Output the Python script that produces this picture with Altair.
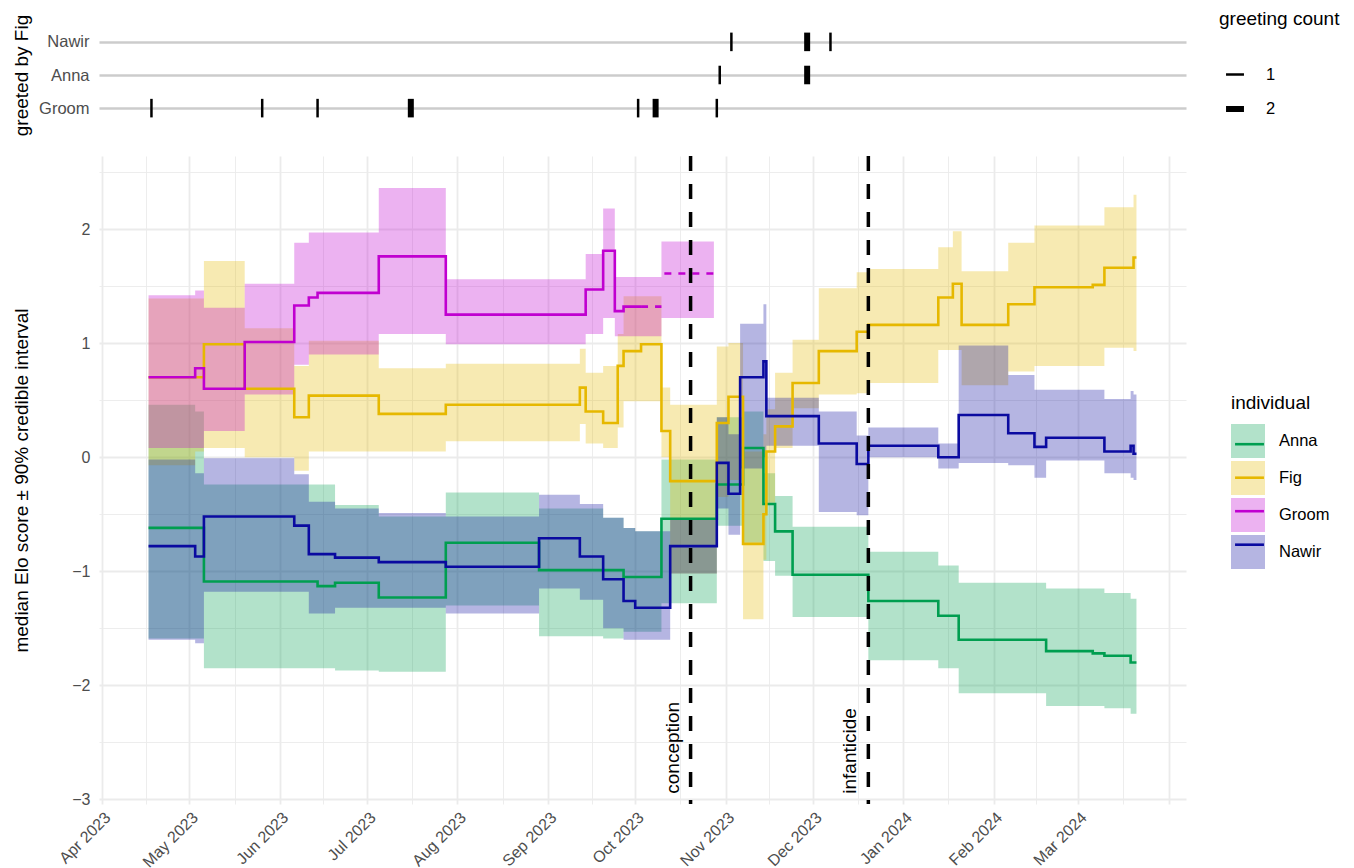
import altair as alt
import pandas as pd

# ---------------- data ----------------
individuals = ["Anna", "Fig", "Groom", "Nawir"]
colors = ["#009E50", "#E6B800", "#C000D0", "#0A0AA0"]

anna_dates = ["2023-04-17", "2023-05-03", "2023-05-06", "2023-06-14", "2023-06-20", "2023-07-05",
              "2023-07-28", "2023-08-29", "2023-09-20", "2023-09-27", "2023-10-01", "2023-10-10",
              "2023-10-29", "2023-11-07", "2023-11-14", "2023-11-18", "2023-11-24", "2023-12-20",
              "2024-01-13", "2024-01-20", "2024-02-19", "2024-03-06", "2024-03-10", "2024-03-19",
              "2024-03-21"]
anna_median = [-0.62, -0.62, -1.09, -1.13, -1.10, -1.23, -0.75, -0.99, -0.99, -1.05, -1.05, -0.54,
               -0.24, 0.08, -0.41, -0.65, -1.03, -1.26, -1.39, -1.60, -1.70, -1.72, -1.74, -1.80, -1.80]
anna_lower = [-1.59, -1.59, -1.85, -1.85, -1.87, -1.88, -1.30, -1.57, -1.59, -1.53, -1.53, -1.28,
              -0.60, -0.75, -0.91, -1.04, -1.40, -1.78, -1.85, -2.07, -2.18, -2.18, -2.20, -2.25, -2.25]
anna_upper = [0.46, 0.40, -0.24, -0.24, -0.42, -0.52, -0.31, -0.45, -0.53, -0.62, -0.65, -0.02,
              0.35, 0.40, -0.14, -0.34, -0.61, -0.83, -0.95, -1.10, -1.15, -1.15, -1.19, -1.24, -1.24]

fig_dates = ["2023-04-17", "2023-05-03", "2023-05-06", "2023-05-20", "2023-06-06", "2023-06-11",
             "2023-07-05", "2023-07-28", "2023-09-12", "2023-09-14", "2023-09-20", "2023-09-25",
             "2023-09-27", "2023-10-03", "2023-10-10", "2023-10-13", "2023-10-29", "2023-11-02",
             "2023-11-07", "2023-11-14", "2023-11-15", "2023-11-18", "2023-11-24", "2023-12-03",
             "2023-12-16", "2023-12-20", "2024-01-13", "2024-01-18", "2024-01-21", "2024-02-06",
             "2024-02-15", "2024-03-06", "2024-03-10", "2024-03-20", "2024-03-21"]
fig_median = [0.70, 0.70, 0.99, 0.60, 0.35, 0.54, 0.38, 0.46, 0.61, 0.40, 0.30, 0.80, 0.93, 0.99,
              0.23, -0.21, 0.30, 0.53, -0.76, -0.50, 0.05, 0.27, 0.65, 0.93, 1.10, 1.16, 1.40, 1.52,
              1.16, 1.34, 1.49, 1.51, 1.66, 1.75, 1.75]
fig_lower = [-0.07, 0.05, 0.08, 0.00, -0.12, 0.05, 0.05, 0.14, 0.29, 0.12, 0.08, 0.26, 0.49, 0.49,
             0.00, -1.02, -0.35, -0.20, -1.42, -0.90, -0.40, 0.08, 0.43, 0.55, 0.56, 0.65, 0.94, 0.94,
             0.63, 0.75, 0.80, 0.80, 0.96, 0.93, 0.93]
fig_upper = [1.39, 1.39, 1.72, 1.13, 0.80, 1.02, 0.78, 0.82, 0.95, 0.74, 0.80, 1.08, 1.41, 1.41,
             0.61, 0.46, 0.97, 1.00, 0.05, 0.20, 0.42, 0.74, 1.03, 1.48, 1.62, 1.65, 1.84, 1.98,
             1.63, 1.88, 2.03, 2.03, 2.19, 2.30, 2.30]

groom_dates = ["2023-04-17", "2023-05-03", "2023-05-06", "2023-05-20", "2023-06-06", "2023-06-11",
               "2023-06-14", "2023-07-05", "2023-07-28", "2023-09-14", "2023-09-20", "2023-09-24",
               "2023-09-27", "2023-10-03", "2023-10-10", "2023-10-28"]
groom_median = [0.70, 0.78, 0.60, 1.01, 1.33, 1.40, 1.44, 1.76, 1.25, 1.47, 1.81, 1.28, 1.32, 1.32,
                None, None]
groom_lower = [0.08, 0.08, 0.23, 0.55, 0.81, 0.90, 0.90, 1.08, 0.99, 1.08, 1.22, 1.06, 1.06, 1.06,
               1.22, 1.22]
groom_upper = [1.42, 1.46, 1.31, 1.52, 1.88, 1.97, 1.97, 2.36, 1.56, 1.78, 2.18, 1.58, 1.58, 1.58,
               1.89, 1.89]
# Groom's dashed (absent) median segments
groom_dash_segment = ["a", "a", "b", "b"]
groom_dash_dates = ["2023-10-03", "2023-10-10", "2023-10-11", "2023-10-28"]
groom_dash_median = [1.32, 1.32, 1.61, 1.61]

nawir_dates = ["2023-04-17", "2023-05-03", "2023-05-06", "2023-06-06", "2023-06-11", "2023-06-20",
               "2023-07-05", "2023-07-28", "2023-08-29", "2023-09-12", "2023-09-20", "2023-09-27",
               "2023-10-01", "2023-10-13", "2023-10-29", "2023-11-02", "2023-11-06", "2023-11-14",
               "2023-11-15", "2023-12-03", "2023-12-16", "2023-12-20", "2024-01-13", "2024-01-20",
               "2024-02-06", "2024-02-15", "2024-02-19", "2024-03-10", "2024-03-19", "2024-03-20",
               "2024-03-21"]
nawir_median = [-0.78, -0.87, -0.52, -0.60, -0.85, -0.88, -0.92, -0.96, -0.71, -0.87, -1.07, -1.26,
                -1.32, -0.78, -0.05, -0.32, 0.70, 0.84, 0.36, 0.12, -0.06, 0.10, 0.00, 0.37, 0.21,
                0.09, 0.17, 0.05, 0.10, 0.03, 0.03]
nawir_lower = [-1.60, -1.63, -1.18, -1.18, -1.37, -1.32, -1.32, -1.37, -1.15, -1.25, -1.50, -1.60,
               -1.60, -1.02, -0.45, -0.68, -0.10, 0.00, 0.10, -0.48, -0.51, 0.00, -0.10, -0.05, -0.07,
               -0.18, -0.03, -0.14, -0.18, -0.20, -0.20]
nawir_upper = [-0.02, -0.14, -0.01, -0.15, -0.39, -0.45, -0.49, -0.52, -0.33, -0.41, -0.53, -0.62,
               -0.65, -0.54, 0.35, 0.20, 1.17, 1.34, 0.52, 0.40, 0.19, 0.26, 0.12, 0.98, 0.72,
               0.59, 0.59, 0.51, 0.58, 0.55, 0.55]

# greetings by Fig
greet_rows = ["Groom", "Anna", "Nawir"]  # bottom to top
greet_individual = ["Groom", "Groom", "Groom", "Groom", "Groom", "Groom", "Groom",
                    "Anna", "Anna", "Nawir", "Nawir", "Nawir"]
greet_dates = ["2023-04-18", "2023-05-26", "2023-06-14", "2023-07-16", "2023-10-02", "2023-10-08",
               "2023-10-29", "2023-10-30", "2023-11-29", "2023-11-03", "2023-11-29", "2023-12-07"]
greet_count = [1, 1, 1, 2, 1, 2, 1, 1, 2, 1, 2, 1]

# events
event_names = ["conception", "infanticide"]
event_dates = ["2023-10-20", "2023-12-20"]

# axis ticks
y_ticks = [-3, -2.5, -2, -1.5, -1, -0.5, 0, 0.5, 1, 1.5, 2, 2.5]
month_starts = pd.date_range("2023-04-01", "2024-04-01", freq="MS", tz="UTC")

# ---------------- tables ----------------
frames = []
for name, d, m, lo, up in [
    ("Anna", anna_dates, anna_median, anna_lower, anna_upper),
    ("Fig", fig_dates, fig_median, fig_lower, fig_upper),
    ("Groom", groom_dates, groom_median, groom_lower, groom_upper),
    ("Nawir", nawir_dates, nawir_median, nawir_lower, nawir_upper),
]:
    frames.append(pd.DataFrame({"date": d, "individual": name, "median": m,
                                "lower": lo, "upper": up}))
elo = pd.concat(frames, ignore_index=True)
elo["median"] = elo["median"].astype(float)

groom_dash = pd.DataFrame({"date": groom_dash_dates, "median": groom_dash_median,
                           "segment": groom_dash_segment})

greet = pd.DataFrame({"date": greet_dates, "individual": greet_individual, "count": greet_count})
greet["row"] = greet["individual"].map({n: i for i, n in enumerate(greet_rows)})

events = pd.DataFrame({"event": event_names, "date": event_dates})

mids = month_starts[:-1] + (month_starts[1:] - month_starts[:-1]) / 2
x_values = sorted([int(v // 10**6) for v in month_starts.asi8] + [int(v // 10**6) for v in mids.asi8])
last_ms = int(month_starts.asi8[-1] // 10**6)

# ---------------- scales / axes ----------------
W = 1087
x_scale = alt.Scale(type="utc", domain=[alt.DateTime(year=2023, month=3, date=31, utc=True),
                                        alt.DateTime(year=2024, month=4, date=7, utc=True)])
y_scale = alt.Scale(domain=[-3.04, 2.64], nice=False, zero=False)

x_axis = alt.Axis(
    values=x_values,
    labelExpr=f"utcdate(datum.value) == 1 && datum.value < {last_ms} ? utcFormat(datum.value, '%b %Y') : ''",
    labelAngle=315, labelAlign="right", labelBaseline="top", labelPadding=5,
    labelFontSize=16, labelColor="#4d4d4d", labelOverlap=False, labelFlush=False,
    ticks=False, domain=False, gridColor="#ebebeb",
    gridWidth={"condition": {"test": "utcdate(datum.value) == 1", "value": 1.8}, "value": 0.9},
    title=None,
)
y_axis = alt.Axis(
    values=y_ticks,
    labelExpr="datum.value % 1 === 0 ? replace(format(datum.value, 'd'), '-', '\u2212') : ''",
    labelFontSize=16, labelColor="#4d4d4d", labelPadding=9, labelOverlap=False,
    ticks=False, domain=False, gridColor="#ebebeb",
    gridWidth={"condition": {"test": "datum.value % 1 === 0", "value": 1.8}, "value": 0.9},
    title="median Elo score \u00b1 90% credible interval",
    titleX=-78, titleY=324, titleAngle=270, titleAlign="center", titleBaseline="middle",
)

fill_legend = alt.Legend(
    title="individual", orient="none", legendX=1132, legendY=371.5, padding=0,
    symbolType="square", symbolSize=1156, symbolOpacity=0.3, symbolStrokeWidth=0,
    rowPadding=3, titlePadding=11.5, labelOffset=14, labelFontSize=16.5, titleFontSize=19,
)
# line keys drawn on top of the filled keys (labels/title carried by the fill legend)
stroke_legend = alt.Legend(
    title=" ", orient="none", legendX=1132, legendY=371.5, padding=0,
    symbolType="M-0.85,0H0.85", symbolSize=1156, symbolStrokeWidth=2.6,
    rowPadding=6.5, titlePadding=13.2, labelOffset=14, labelFontSize=16.5, titleFontSize=19,
    labelExpr="''", labelOpacity=0, titleOpacity=0,
)

# ---------------- bottom panel ----------------
bands = alt.Chart(elo).mark_area(interpolate="step-after", opacity=0.3).encode(
    x=alt.X("date:T", scale=x_scale, axis=x_axis),
    y=alt.Y("lower:Q", scale=y_scale, axis=y_axis),
    y2="upper:Q",
    fill=alt.Fill("individual:N", scale=alt.Scale(domain=individuals, range=colors),
                  legend=fill_legend),
)
lines = alt.Chart(elo).mark_line(interpolate="step-after", strokeWidth=2.6).encode(
    x="date:T",
    y="median:Q",
    stroke=alt.Stroke("individual:N", scale=alt.Scale(range=colors), legend=stroke_legend),
)
dashed = alt.Chart(groom_dash).mark_line(interpolate="step-after", strokeWidth=2.6,
                                         strokeDash=[7, 7], color=colors[2]).encode(
    x="date:T", y="median:Q", detail="segment:N",
)
vlines = alt.Chart(events).mark_rule(color="black", strokeWidth=3.5, strokeDash=[15, 13]).encode(
    x="date:T",
)
vlabels = alt.Chart(events).mark_text(angle=270, align="left", baseline="bottom", dy=-8,
                                      fontSize=19, color="black").encode(
    x="date:T", y=alt.datum(-2.95), text="event:N",
)
bottom = alt.layer(bands, lines, dashed, vlines, vlabels).properties(width=W, height=648)

# ---------------- top panel ----------------
row_label_expr = "[" + ",".join(f"'{n}'" for n in greet_rows) + "][datum.value]"
top = alt.Chart(greet).transform_calculate(
    y0="datum.row - 0.28", y1="datum.row + 0.28"
).mark_rule(color="black").encode(
    x=alt.X("date:T", scale=x_scale, axis=None),
    y=alt.Y("y0:Q", scale=alt.Scale(domain=[-0.6, 2.6], nice=False, zero=False),
            axis=alt.Axis(values=[0, 1, 2], labelExpr=row_label_expr, ticks=False, domain=False,
                          gridColor="#cccccc", gridWidth=2.4, labelFontSize=16.5,
                          labelColor="#4d4d4d", labelPadding=10,
                          title="greeted by Fig", titleX=-78, titleY=53, titleAngle=270,
                          titleAlign="center", titleBaseline="middle")),
    y2="y1:Q",
    strokeWidth=alt.StrokeWidth("count:O", scale=alt.Scale(domain=[1, 2], range=[2.5, 6]),
                                legend=alt.Legend(title="greeting count", orient="none",
                                                  legendX=1120, legendY=-12, padding=0,
                                                  symbolType="M-0.69,0H0.69", symbolSize=676,
                                                  symbolStrokeColor="black", rowPadding=10,
                                                  titlePadding=31, labelOffset=15,
                                                  labelFontSize=16.5, titleFontSize=19)),
).properties(width=W, height=106)

chart = alt.vconcat(top, bottom, spacing=28, bounds="flush").properties(
    padding={"left": 3, "top": 2, "right": 5, "bottom": 2}
).configure(font="Liberation Sans").configure_view(stroke="transparent").configure_axis(
    titleFontSize=19, titleFontWeight="normal", titleColor="black"
).configure_legend(titleFontWeight="normal", titleColor="black", labelColor="black", labelLimit=300)

chart.save("out.html", embed_options={"renderer": "svg", "actions": False})
